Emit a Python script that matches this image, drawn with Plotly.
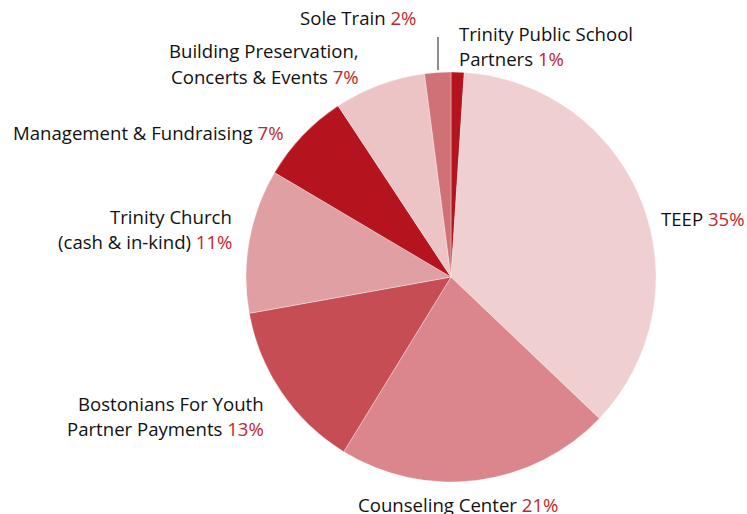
import plotly.graph_objects as go

W, H = 747, 514

labels = ["Trinity Public School Partners", "TEEP", "Counseling Center",
          "Bostonians For Youth Partner Payments", "Trinity Church (cash & in-kind)",
          "Management & Fundraising", "Building Preservation, Concerts & Events",
          "Sole Train"]
values = [1, 35, 21, 13, 11, 7, 7, 2]
colors = ["#B5141F", "#F0CFD1", "#DA868C", "#C64D54", "#E09FA3",
          "#B5141F", "#ECC4C6", "#D07176"]

# label text lines (name part) per slice, percentage appended to last line
label_lines = [
    ["Trinity Public School", "Partners"],
    ["TEEP"],
    ["Counseling Center"],
    ["Bostonians For Youth", "Partner Payments"],
    ["Trinity Church", "(cash & in-kind)"],
    ["Management & Fundraising"],
    ["Building Preservation,", "Concerts & Events"],
    ["Sole Train"],
]
pct_text = ["1%", "35%", "21%", "13%", "11%", "7%", "7%", "2%"]

# label anchor positions in pixels (x, y of first line, xanchor)
label_pos = [
    (457, 33, "left"),
    (659, 218, "left"),
    (560, 504, "right"),
    (266, 403, "right"),
    (234, 216, "right"),
    (286, 133, "right"),
    (361, 51, "right"),
    (418, 18, "right"),
]

TXT = "#111111"
RED = "#C0262E"
FONT = "Open Sans"
FS = 18.6
LINE_H = 25

cx, cy, r = 451, 277, 205

fig = go.Figure(go.Pie(
    labels=labels, values=values, sort=False, direction="clockwise", rotation=0,
    marker=dict(colors=colors, line=dict(color="rgba(255,255,255,0.6)", width=0.6)),
    textinfo="none", hoverinfo="label+percent", showlegend=False,
    domain=dict(x=[(cx - r) / W, (cx + r) / W], y=[(H - cy - r) / H, (H - cy + r) / H]),
))

annotations = []
for lines, pct, (px, py, anchor) in zip(label_lines, pct_text, label_pos):
    for i, ln in enumerate(lines):
        t = ln
        if i == len(lines) - 1:
            t = f"{ln} <span style='color:{RED}'>{pct}</span>"
        annotations.append(dict(
            x=px / W, y=1 - (py + i * LINE_H) / H, xref="paper", yref="paper",
            text=t, showarrow=False, xanchor=anchor, yanchor="middle",
            font=dict(family=FONT, size=FS, color=TXT),
        ))

fig.update_layout(
    width=W, height=H, margin=dict(l=0, r=0, t=0, b=0),
    paper_bgcolor="white", plot_bgcolor="white",
    annotations=annotations,
    shapes=[dict(type="line", xref="paper", yref="paper",
                 x0=438 / W, x1=438 / W, y0=1 - 37 / H, y1=1 - 70 / H,
                 line=dict(color="#1a1a1a", width=1))],
)

fig.write_html("out.html")
